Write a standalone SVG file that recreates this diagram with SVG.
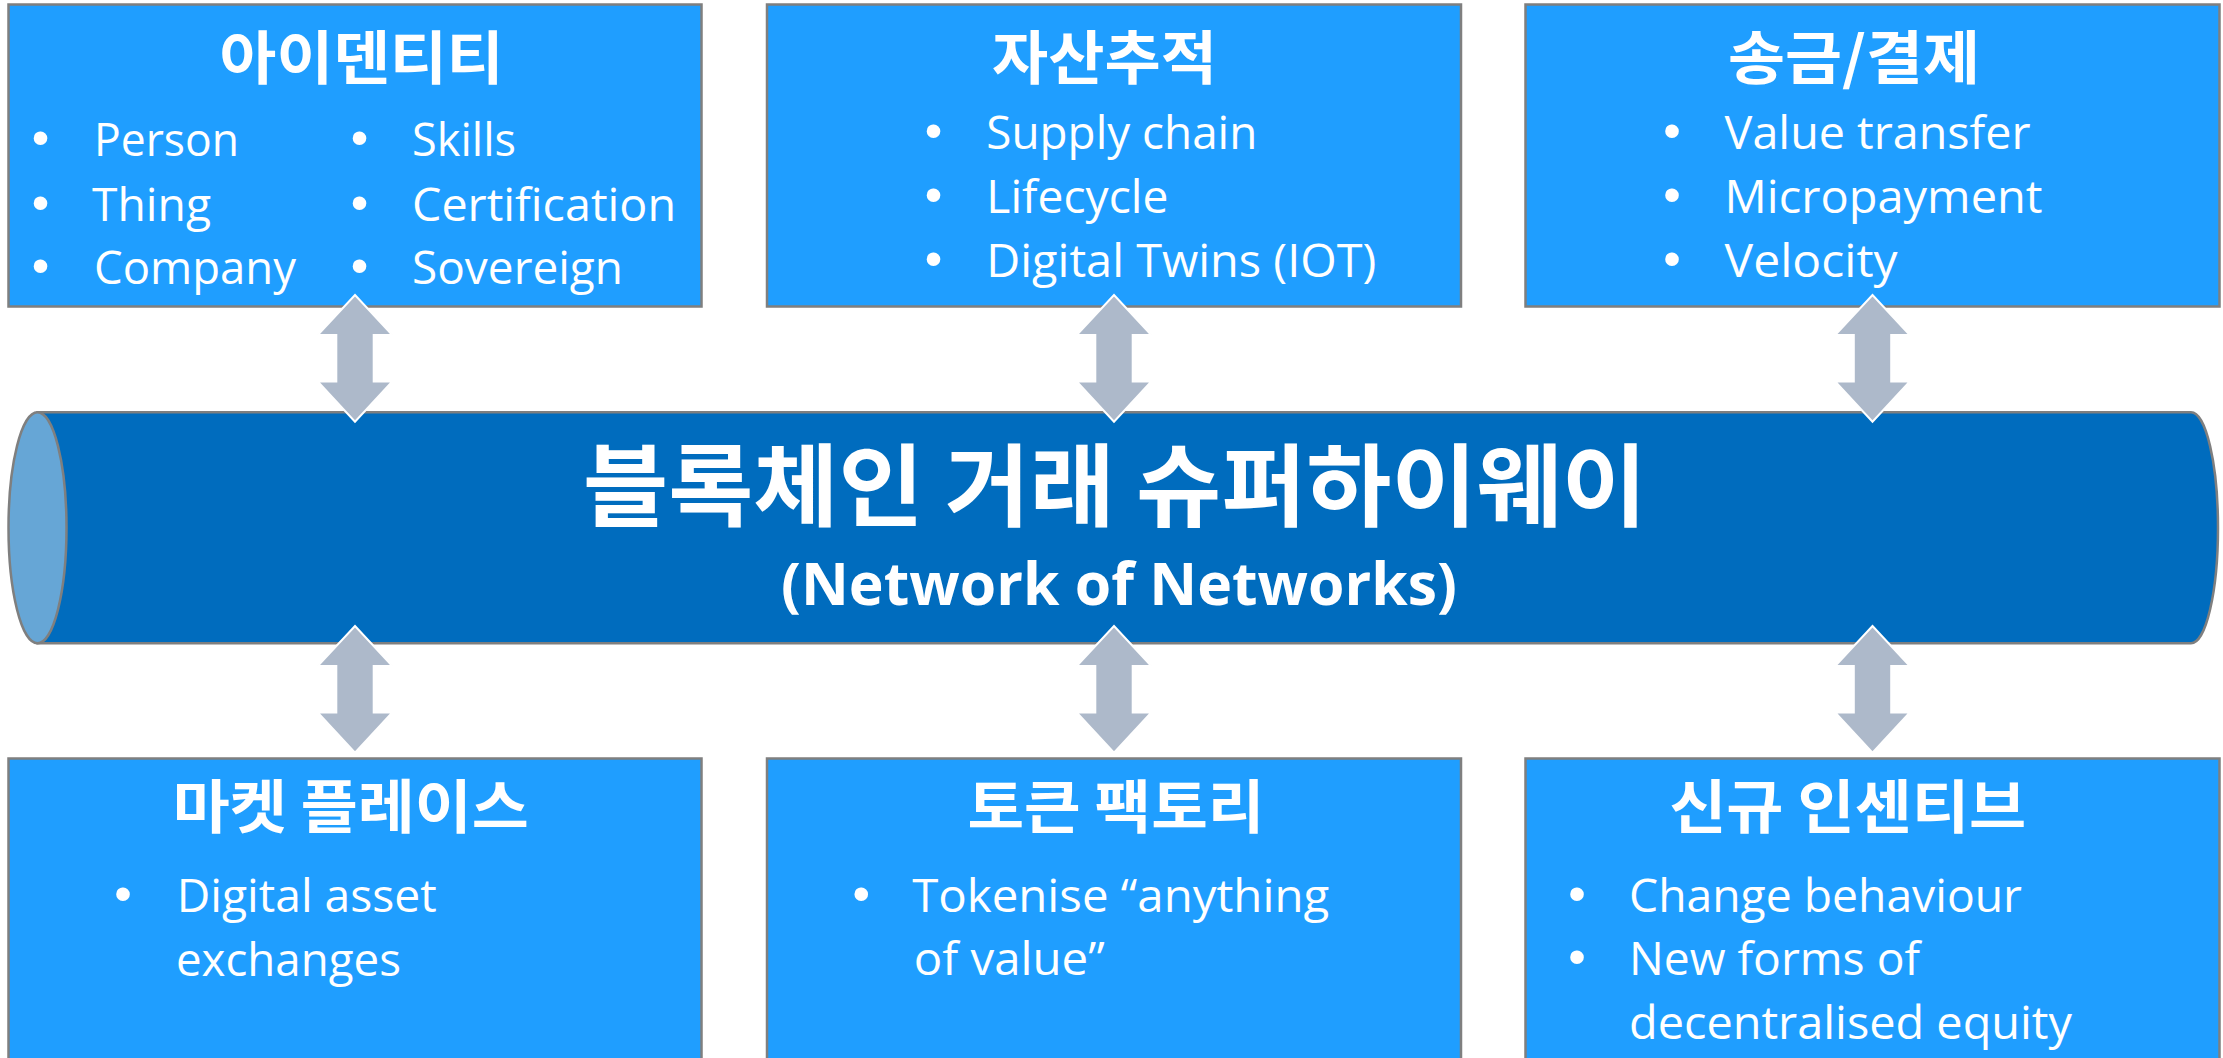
<svg xmlns="http://www.w3.org/2000/svg" width="2223" height="1058" viewBox="0 0 2223 1058">
<style>
.box{fill:#1F9EFF;stroke:#7F7F7F;stroke-width:2.5}
.title{font-family:"Noto Sans CJK KR","Noto Sans",sans-serif;font-weight:700;font-size:58px;fill:#FFFFFF;text-anchor:middle}
.item{font-family:"Open Sans","Liberation Sans",sans-serif;font-size:46px;fill:#FFFFFF}
.dot{font-family:"Liberation Sans",sans-serif;font-size:50px;fill:#FFFFFF;text-anchor:middle}
.pipe{fill:#006CBE;stroke:#7F7F7F;stroke-width:2.5}
.cap{fill:#66A6D6;stroke:#7F7F7F;stroke-width:2.5}
.big{font-family:"Noto Sans CJK KR","Noto Sans",sans-serif;font-weight:700;font-size:90px;fill:#FFFFFF;text-anchor:middle}
.sub{font-family:"Open Sans","Liberation Sans",sans-serif;font-weight:700;font-size:59px;fill:#FFFFFF;text-anchor:middle}
.arrow{fill:#ADB9CA;stroke:#FFFFFF;stroke-width:2;stroke-linejoin:miter}
</style>
<defs>
<path id="dbl" d="M0,0 L37.3,40 L18.7,40 L18.7,86.5 L37.3,86.5 L0,126.7 L-37.3,86.5 L-18.7,86.5 L-18.7,40 L-37.3,40 Z"/>
</defs>
<rect width="2223" height="1058" fill="#FFFFFF"/>

<g id="highway">
<path class="pipe" d="M37.5,412.3 L2191,412.3 A27,115.5 0 0 1 2191,643.3 L37.5,643.3 Z"/>
<ellipse class="cap" cx="37.5" cy="527.8" rx="29" ry="115.5"/>
<text class="big" x="1115" y="519" textLength="1064" lengthAdjust="spacingAndGlyphs">블록체인 거래 슈퍼하이웨이</text>
<text class="sub" x="1119" y="605" textLength="676" lengthAdjust="spacingAndGlyphs">(Network of Networks)</text>
</g>

<g id="identity">
<rect class="box" x="8.5" y="4.5" width="693" height="302"/>
<text class="title" x="361.6" y="79" textLength="284" lengthAdjust="spacingAndGlyphs">아이덴티티</text>
<text class="dot" x="40.4" y="155">•</text>
<text class="dot" x="40.4" y="219.5">•</text>
<text class="dot" x="40.4" y="283">•</text>
<text class="item" x="94" y="156" textLength="145" lengthAdjust="spacingAndGlyphs">Person</text>
<text class="item" x="92" y="220.7" textLength="119" lengthAdjust="spacingAndGlyphs">Thing</text>
<text class="item" x="94" y="284" textLength="202" lengthAdjust="spacingAndGlyphs">Company</text>
<text class="dot" x="359.5" y="155">•</text>
<text class="dot" x="359.5" y="219.5">•</text>
<text class="dot" x="359.5" y="283">•</text>
<text class="item" x="412" y="156" textLength="104" lengthAdjust="spacingAndGlyphs">Skills</text>
<text class="item" x="412" y="220.7" textLength="264" lengthAdjust="spacingAndGlyphs">Certification</text>
<text class="item" x="412" y="284" textLength="211" lengthAdjust="spacingAndGlyphs">Sovereign</text>
</g>

<g id="asset-tracking">
<rect class="box" x="767" y="4.5" width="694" height="302"/>
<text class="title" x="1104.4" y="79" textLength="225" lengthAdjust="spacingAndGlyphs">자산추적</text>
<text class="dot" x="933.5" y="148">•</text>
<text class="dot" x="933.5" y="212">•</text>
<text class="dot" x="933.5" y="275.5">•</text>
<text class="item" x="986.3" y="149.3" textLength="271" lengthAdjust="spacingAndGlyphs">Supply chain</text>
<text class="item" x="986.3" y="213.3" textLength="182" lengthAdjust="spacingAndGlyphs">Lifecycle</text>
<text class="item" x="986.3" y="276.7" textLength="390" lengthAdjust="spacingAndGlyphs">Digital Twins (IOT)</text>
</g>

<g id="payment">
<rect class="box" x="1525.5" y="4.5" width="694" height="302"/>
<text class="title" x="1853.9" y="79" textLength="252" lengthAdjust="spacingAndGlyphs">송금/결제</text>
<text class="dot" x="1672" y="148">•</text>
<text class="dot" x="1672" y="212">•</text>
<text class="dot" x="1672" y="275.5">•</text>
<text class="item" x="1724.6" y="149.3" textLength="306" lengthAdjust="spacingAndGlyphs">Value transfer</text>
<text class="item" x="1724.6" y="213" textLength="318" lengthAdjust="spacingAndGlyphs">Micropayment</text>
<text class="item" x="1724.6" y="277" textLength="173" lengthAdjust="spacingAndGlyphs">Velocity</text>
</g>

<g id="marketplace">
<rect class="box" x="8.5" y="758.5" width="693" height="320"/>
<text class="title" x="350.8" y="827.5" textLength="356" lengthAdjust="spacingAndGlyphs">마켓 플레이스</text>
<text class="dot" x="123" y="910.5">•</text>
<text class="item" x="176.8" y="911.7" textLength="260" lengthAdjust="spacingAndGlyphs">Digital asset</text>
<text class="item" x="175.9" y="976" textLength="225" lengthAdjust="spacingAndGlyphs">exchanges</text>
</g>

<g id="token-factory">
<rect class="box" x="767" y="758.5" width="694" height="320"/>
<text class="title" x="1115.9" y="827.5" textLength="297" lengthAdjust="spacingAndGlyphs">토큰 팩토리</text>
<text class="dot" x="861.3" y="910.5">•</text>
<text class="item" x="912.2" y="911.7" textLength="417" lengthAdjust="spacingAndGlyphs">Tokenise “anything</text>
<text class="item" x="913.7" y="975" textLength="191" lengthAdjust="spacingAndGlyphs">of value”</text>
</g>

<g id="new-incentives">
<rect class="box" x="1525.5" y="758.5" width="694" height="320"/>
<text class="title" x="1847.7" y="827.5" textLength="357" lengthAdjust="spacingAndGlyphs">신규 인센티브</text>
<text class="dot" x="1577" y="910.5">•</text>
<text class="dot" x="1577" y="974">•</text>
<text class="item" x="1629" y="911.7" textLength="393" lengthAdjust="spacingAndGlyphs">Change behaviour</text>
<text class="item" x="1629" y="975" textLength="291" lengthAdjust="spacingAndGlyphs">New forms of</text>
<text class="item" x="1629" y="1039.3" textLength="443" lengthAdjust="spacingAndGlyphs">decentralised equity</text>
</g>

<g id="connectors">
<use href="#dbl" class="arrow" x="355" y="295"/>
<use href="#dbl" class="arrow" x="1114" y="295"/>
<use href="#dbl" class="arrow" x="1872.5" y="295"/>
<use href="#dbl" class="arrow" x="355" y="626"/>
<use href="#dbl" class="arrow" x="1114" y="626"/>
<use href="#dbl" class="arrow" x="1872.5" y="626"/>
</g>
</svg>
